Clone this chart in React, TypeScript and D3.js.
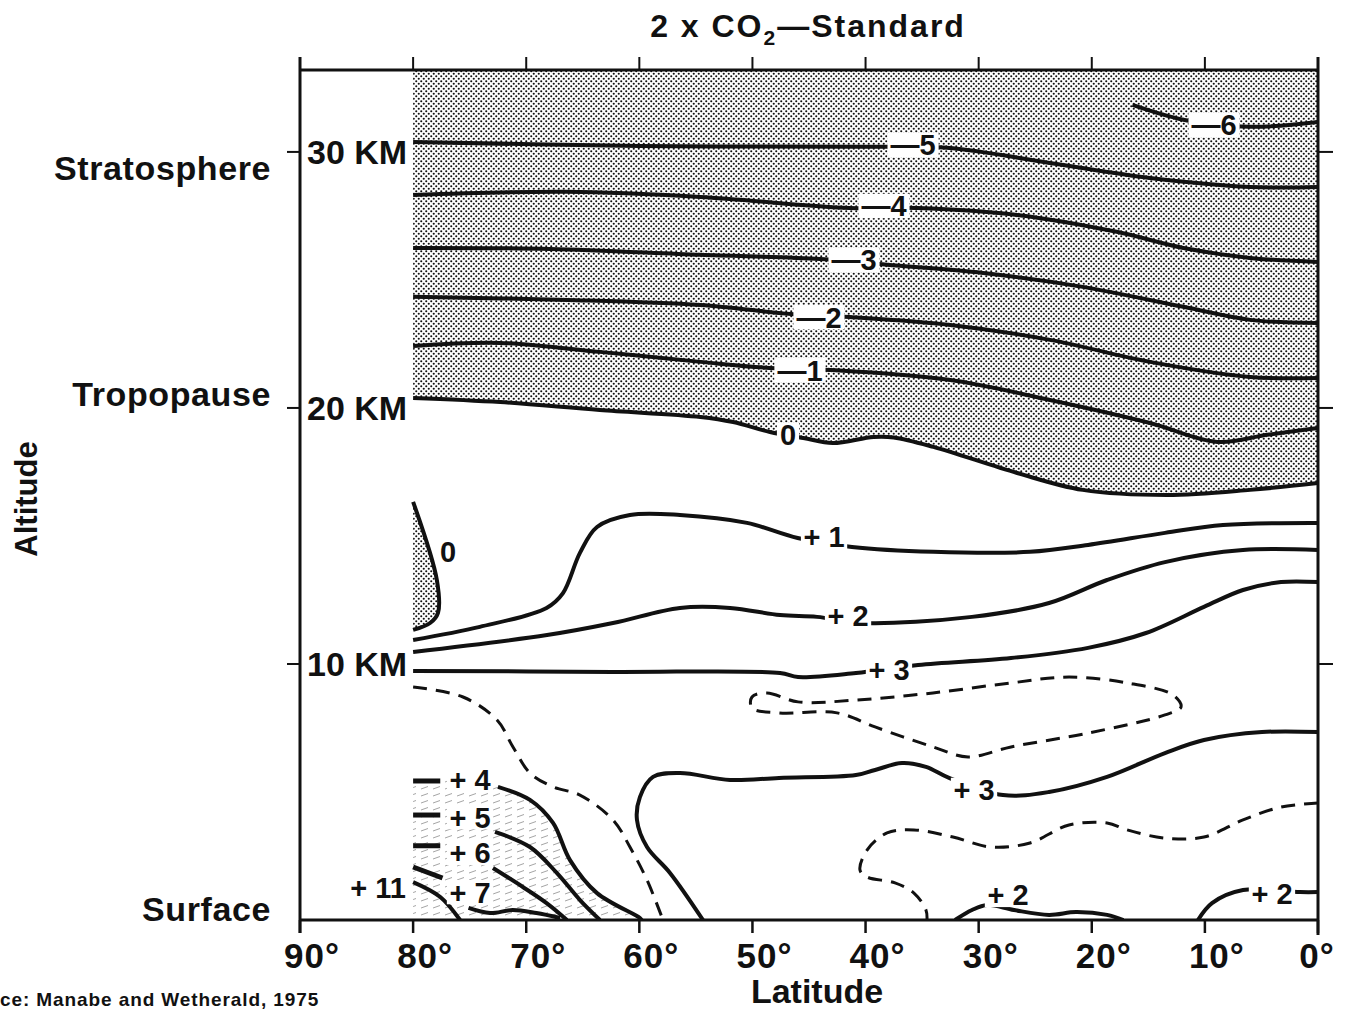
import * as d3 from 'd3';

const width = 1346;
const height = 1012;
const plot = { left: 300, right: 1318, top: 70, bottom: 920 };
const font = '"Liberation Sans", Arial, Helvetica, sans-serif';

// axes
const latTicks = [90, 80, 70, 60, 50, 40, 30, 20, 10, 0];
const kmTicks = [10, 20, 30];
const kmTickLabels = ['10 KM', '20 KM', '30 KM'];
const layerNames = ['Surface', 'Tropopause', 'Stratosphere'];
const layerKm = [0.45, 20.55, 29.4];

// contour lines, [latitude, km]
const minus6 = [[16.4, 31.84], [11.8, 31.25], [6.0, 30.98], [0, 31.17]];
const minus5 = [[80, 30.39], [60, 30.23], [40, 30.2], [32.8, 30.16], [23.7, 29.57], [14.85, 28.98], [6.0, 28.63], [0, 28.63]];
const minus4 = [[80, 28.32], [66.4, 28.44], [54.6, 28.24], [41.4, 27.81], [35.45, 27.81], [26.6, 27.54], [17.8, 26.88], [11.9, 26.25], [6.0, 25.86], [0, 25.7]];
const minus3 = [[80, 26.25], [67.9, 26.21], [54.6, 25.98], [44.0, 25.82], [38.1, 25.59], [29.6, 25.27], [20.8, 24.73], [11.9, 23.95], [6.0, 23.44], [0, 23.32]];
const minus2 = [[80, 24.34], [66.4, 24.22], [54.6, 24.02], [46.6, 23.67], [41.4, 23.55], [32.5, 23.24], [23.7, 22.66], [14.85, 21.8], [6.0, 21.21], [0, 21.17]];
const minus1 = [[80, 22.42], [72.3, 22.54], [63.5, 22.19], [54.6, 21.8], [48.45, 21.56], [43.1, 21.48], [32.5, 21.09], [23.7, 20.31], [14.85, 19.41], [8.9, 18.67], [4.5, 18.95], [0, 19.22]];
const zeroUpper = [[80, 20.39], [72.3, 20.23], [63.5, 19.92], [54.6, 19.65], [51.7, 19.45], [48.45, 19.06], [45.5, 18.83], [42.9, 18.63], [39.3, 18.87], [37.5, 18.85], [34.0, 18.48], [26.6, 17.46], [20.8, 16.8], [13.35, 16.6], [6.0, 16.8], [0, 17.07]];
const zeroLower = [[80, 16.33], [77.9, 13.28], [77.8, 12.0], [78.5, 11.6], [80, 11.33]];
const plus1 = [[80, 10.94], [74.1, 11.45], [68.2, 12.19], [66.75, 12.77], [65.25, 14.34], [63.74, 15.35], [60.83, 15.82], [56.41, 15.82], [50.48, 15.51], [46.0, 14.92], [41.2, 14.57], [34.0, 14.38], [25.46, 14.38], [20.33, 14.65], [13.53, 15.12], [8.4, 15.43], [0, 15.51]];
const plus2 = [[80, 10.47], [68.16, 11.13], [62.33, 11.6], [56.41, 12.19], [51.98, 12.19], [47.56, 11.91], [44.29, 11.84], [40.23, 11.6], [30.59, 11.84], [23.78, 12.38], [18.65, 13.28], [13.53, 13.98], [6.63, 14.45], [0, 14.45]];
const plus3Upper = [[80, 9.73], [62.33, 9.69], [47.56, 9.65], [45.97, 9.49], [40.85, 9.65], [35.36, 9.96], [27.14, 10.23], [20.33, 10.63], [15.21, 11.21], [10.08, 12.23], [6.63, 12.89], [3.27, 13.2], [0, 13.2]];
const plus3Lower = [[54.37, 0], [57.29, 1.84], [59.32, 2.85], [60.21, 3.91], [59.95, 4.8], [58.79, 5.59], [56.41, 5.74], [51.98, 5.47], [47.65, 5.55], [40.85, 5.66], [39.16, 5.86], [36.78, 6.13], [34.66, 5.98], [32.62, 5.55], [27.85, 4.88], [23.78, 5.0], [18.65, 5.59], [13.53, 6.52], [10.08, 7.03], [4.95, 7.34], [0, 7.34]];
const plus2Mid = [[32.09, 0], [30.59, 0.39], [29.26, 0.59], [26.88, 0.39], [23.78, 0.2], [21.4, 0.31], [18.65, 0.2], [17.2, 0]];
const plus2Right = [[10.61, 0], [9.37, 0.66], [6.63, 1.17], [1.59, 1.09], [0, 1.09]];
const plus4Stub = [[80, 5.43], [77.6, 5.43]];
const plus4 = [[72.5, 5.2], [69.67, 4.69], [67.63, 3.79], [66.13, 2.34], [63.74, 1.05], [59.95, 0.08], [59.8, 0]];
const plus5Stub = [[80, 4.1], [77.6, 4.1]];
const plus5 = [[72.76, 3.44], [69.67, 2.85], [67.3, 1.84], [65.25, 0.78], [63.48, 0]];
const plus6Stub = [[80, 2.9], [77.6, 2.9]];
const plus6 = [[72.94, 2.03], [70.3, 1.29], [68.2, 0.66], [66.4, 0]];
const plus7Stub = [[80, 2.07], [77.4, 1.64]];
const plus7 = [[75.1, 0.47], [73.2, 0.27], [71.2, 0.39], [69.1, 0.27], [67.0, 0.08]];
const plus11 = [[80, 1.48], [77.6, 0.9], [75.85, 0]];
const dashedLeft = [[80, 9.1], [75.59, 8.71], [72.58, 7.81], [71.17, 6.76], [69.67, 5.74], [67.63, 5.2], [65.25, 4.88], [62.33, 3.91], [60.83, 2.85], [59.32, 1.56], [57.91, 0]];
const dashedLoop = [[50.04, 8.71], [48.71, 8.87], [45.97, 8.52], [40.85, 8.59], [34.04, 8.87], [27.14, 9.26], [22.01, 9.49], [16.89, 9.26], [12.82, 8.79], [12.11, 8.32], [13.53, 8.01], [20.33, 7.3], [27.14, 6.76], [30.94, 6.37], [34.04, 6.76], [39.16, 7.54], [42.52, 8.09], [47.65, 8.09], [50.04, 8.28]];
const dashedRight = [[0, 4.57], [3.27, 4.41], [6.63, 3.91], [10.08, 3.24], [13.53, 3.2], [16.89, 3.52], [18.65, 3.79], [22.01, 3.71], [25.46, 3.01], [28.91, 2.85], [32.27, 3.24], [35.72, 3.52], [38.1, 3.4], [39.87, 2.73], [40.49, 1.95], [39.87, 1.68], [37.4, 1.45], [35.72, 1.05], [34.66, 0.39], [34.57, 0]];

const solidLines = [minus6, minus5, minus4, minus3, minus2, minus1, zeroUpper, zeroLower, plus1, plus2, plus3Upper, plus3Lower, plus2Mid, plus2Right, plus4, plus5, plus6, plus7, plus11];
const stubLines = [plus4Stub, plus5Stub, plus6Stub, plus7Stub];
const dashedLines = [dashedLeft, dashedRight];

// contour labels
const labelTexts = ['—6', '—5', '—4', '—3', '—2', '—1', '0', '0', '+ 1', '+ 2', '+ 3', '+ 3', '+ 2', '+ 2', '+ 4', '+ 5', '+ 6', '+ 7', '+ 11'];
const labelLats = [9.19, 35.8, 38.37, 41.02, 44.12, 45.8, 46.86, 76.92, 43.67, 41.55, 37.93, 30.41, 27.41, 4.07, 74.97, 74.97, 74.97, 74.97, 83.1];
const labelKms = [31.05, 30.27, 27.89, 25.78, 23.55, 21.48, 18.95, 14.38, 14.96, 11.91, 9.77, 5.08, 0.98, 1.05, 5.47, 4.02, 2.62, 1.09, 1.25];

const x = d3.scaleLinear().domain([90, 0]).range([plot.left, plot.right]);
const y = d3.scaleLinear().domain([0, 33.2]).range([plot.bottom, plot.top]);

const line = d3.line<number[]>().x(d => x(d[0])).y(d => y(d[1])).curve(d3.curveCatmullRom.alpha(0.5));
const loop = d3.line<number[]>().x(d => x(d[0])).y(d => y(d[1])).curve(d3.curveCatmullRomClosed.alpha(0.5));

const labelSize = 29;
const charWidth = (c: string) => (c === '—' ? 1.0 : c === '+' ? 0.584 : c === ' ' ? 0.25 : 0.556);
const textWidth = (s: string) => s.split('').reduce((a, c) => a + charWidth(c), 0) * labelSize;

function App() {
  const stippleTop = line(zeroUpper) + `L${x(0)},${plot.top}L${x(80)},${plot.top}Z`;
  const stippleSmall = line(zeroLower) + 'Z';
  const hatch = line([[80, 5.45], [75, 5.45], ...plus4]) + `L${x(80)},${y(0)}Z`;

  return (
    <svg width={width} height={height} style={{ position: 'absolute', left: 0, top: 0, background: '#fff' }} fontFamily={font}>
      <defs>
        <pattern id="dots" width="5" height="5" patternUnits="userSpaceOnUse">
          <circle cx="1.25" cy="1.25" r="1.05" fill="#111" />
          <circle cx="3.75" cy="3.75" r="1.05" fill="#111" />
        </pattern>
        <pattern id="hatch" width="12" height="7" patternUnits="userSpaceOnUse">
          <line x1="1" y1="5" x2="8" y2="2.5" stroke="#9a9a9a" strokeWidth="0.9" />
        </pattern>
        <clipPath id="plotClip">
          <rect x={plot.left} y={plot.top} width={plot.right - plot.left} height={plot.bottom - plot.top} />
        </clipPath>
      </defs>
      <rect width={width} height={height} fill="#fff" />

      <g clipPath="url(#plotClip)">
        <path d={stippleTop} fill="url(#dots)" />
        <path d={stippleSmall} fill="url(#dots)" />
        <path d={hatch} fill="url(#hatch)" />
        {solidLines.map((pts, i) => (
          <path key={'s' + i} d={line(pts) || ''} fill="none" stroke="#111" strokeWidth={4} strokeLinecap="butt" />
        ))}
        {stubLines.map((pts, i) => (
          <path key={'t' + i} d={line(pts) || ''} fill="none" stroke="#111" strokeWidth={5} />
        ))}
        {dashedLines.map((pts, i) => (
          <path key={'d' + i} d={line(pts) || ''} fill="none" stroke="#111" strokeWidth={3} strokeDasharray="14 9" />
        ))}
        <path d={loop(dashedLoop) || ''} fill="none" stroke="#111" strokeWidth={3} strokeDasharray="14 9" />
      </g>

      {labelTexts.map((t, i) => {
        const w = textWidth(t) + 6;
        const cx = x(labelLats[i]);
        const cy = y(labelKms[i]);
        return (
          <g key={'l' + i}>
            <rect x={cx - w / 2} y={cy - labelSize * 0.42} width={w} height={labelSize * 0.84} fill="#fff" />
            <text x={cx} y={cy} dy="0.36em" textAnchor="middle" fontSize={labelSize} fontWeight="bold" fill="#111">{t}</text>
          </g>
        );
      })}

      {/* frame */}
      <g stroke="#111" strokeWidth={3} fill="none">
        <line x1={plot.left} x2={plot.right} y1={plot.top} y2={plot.top} />
        <line x1={plot.left} x2={plot.right} y1={plot.bottom} y2={plot.bottom} />
        <line x1={plot.left} x2={plot.left} y1={plot.top - 13} y2={plot.bottom + 13} />
        <line x1={plot.right} x2={plot.right} y1={plot.top - 13} y2={plot.bottom + 15} />
        {latTicks.map(d => (
          <g key={'lt' + d}>
            <line x1={x(d)} x2={x(d)} y1={plot.top} y2={plot.top - 13} strokeWidth={2} />
            <line x1={x(d)} x2={x(d)} y1={plot.bottom} y2={plot.bottom + 13} strokeWidth={2.5} />
          </g>
        ))}
        {kmTicks.map(d => (
          <g key={'kt' + d}>
            <line x1={plot.left - 13} x2={plot.left} y1={y(d)} y2={y(d)} strokeWidth={2} />
            <line x1={plot.right} x2={plot.right + 15} y1={y(d)} y2={y(d)} strokeWidth={2} />
          </g>
        ))}
      </g>

      <g fill="#111" fontWeight="bold">
        <text x={808} y={37} textAnchor="middle" fontSize={32} letterSpacing={2}>
          2 x CO<tspan fontSize={21} dy={8}>2</tspan><tspan dy={-8}>—Standard</tspan>
        </text>
        {latTicks.map(d => (
          <text key={'lx' + d} x={x(d) + (d === 0 ? -1 : 12)} y={968} textAnchor="middle" fontSize={35} letterSpacing={1}>{d}°</text>
        ))}
        {kmTickLabels.map((t, i) => (
          <text key={'kl' + i} x={307} y={y(kmTicks[i])} dy="0.36em" fontSize={34}>{t}</text>
        ))}
        {layerNames.map((t, i) => (
          <text key={'ln' + i} x={271} y={y(layerKm[i])} dy="0.36em" textAnchor="end" fontSize={34} letterSpacing={0.6}>{t}</text>
        ))}
        <text x={817} y={1003} textAnchor="middle" fontSize={34}>Latitude</text>
        <text transform="translate(37,499) rotate(-90)" textAnchor="middle" fontSize={31}>Altitude</text>
        <text x={0} y={1006} fontSize={19} letterSpacing={0.9}>ce: Manabe and Wetherald, 1975</text>
      </g>
    </svg>
  );
}

export default App;
